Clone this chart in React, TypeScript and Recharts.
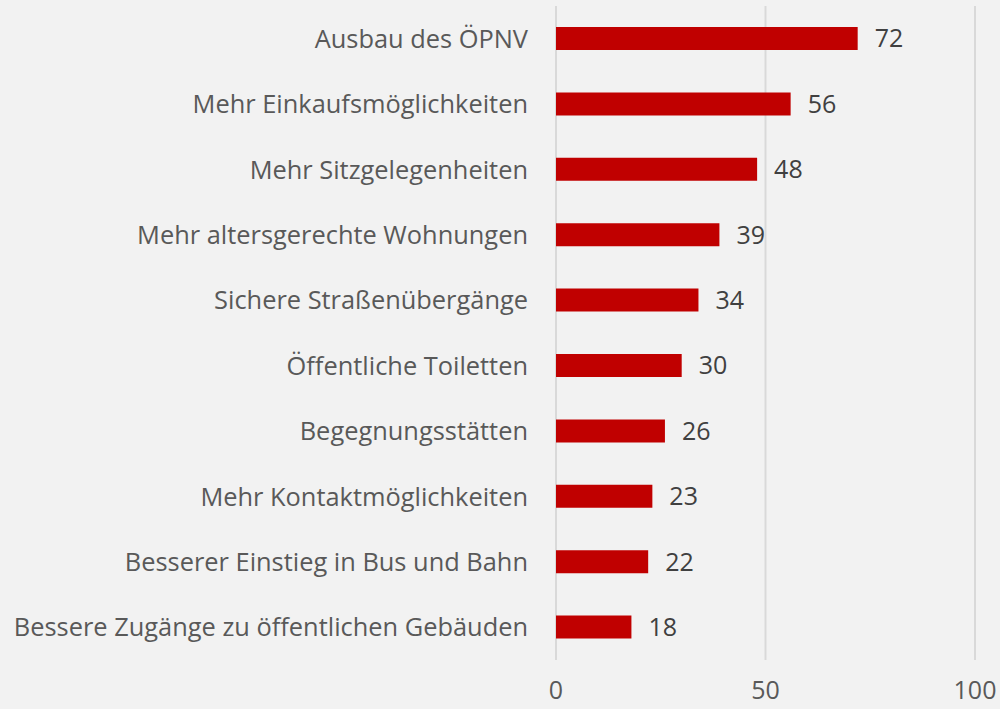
import { BarChart, Bar, XAxis, YAxis, CartesianGrid, LabelList } from "recharts";

const categories = [
  "Ausbau des ÖPNV",
  "Mehr Einkaufsmöglichkeiten",
  "Mehr Sitzgelegenheiten",
  "Mehr altersgerechte Wohnungen",
  "Sichere Straßenübergänge",
  "Öffentliche Toiletten",
  "Begegnungsstätten",
  "Mehr Kontaktmöglichkeiten",
  "Besserer Einstieg in Bus und Bahn",
  "Bessere Zugänge zu öffentlichen Gebäuden",
];
const values = [72, 56, 48, 39, 34, 30, 26, 23, 22, 18];
const xTicks = [0, 50, 100];

const data = categories.map((name, i) => ({ name, value: values[i] }));

const font = "'Open Sans', sans-serif";

const App = () => {
  return (
    <div
      style={{
        position: "fixed",
        top: 0,
        left: 0,
        width: 1000,
        height: 709,
        background: "#f2f2f2",
        fontFamily: font,
      }}
    >
      <BarChart
        width={1000}
        height={709}
        data={data}
        layout="vertical"
        margin={{ top: 6, right: 25, bottom: 0, left: 0 }}
      >
        <CartesianGrid horizontal={false} stroke="#d9d9d9" strokeWidth={2} />
        <XAxis
          type="number"
          domain={[0, 100]}
          ticks={xTicks}
          height={49}
          axisLine={false}
          tickLine={false}
          tickMargin={15}
          tick={{ fill: "#595959", fontSize: 25, fontFamily: font }}
        />
        <YAxis
          type="category"
          dataKey="name"
          width={556}
          axisLine={false}
          tickLine={false}
          tickMargin={22}
          interval={0}
          tick={{ fill: "#595959", fontSize: 25.4, fontFamily: font }}
        />
        <Bar dataKey="value" fill="#c00000" barSize={23} isAnimationActive={false}>
          <LabelList
            dataKey="value"
            position="right"
            offset={17}
            fill="#404040"
            fontSize={25}
            fontFamily={font}
          />
        </Bar>
      </BarChart>
    </div>
  );
};

export default App;
